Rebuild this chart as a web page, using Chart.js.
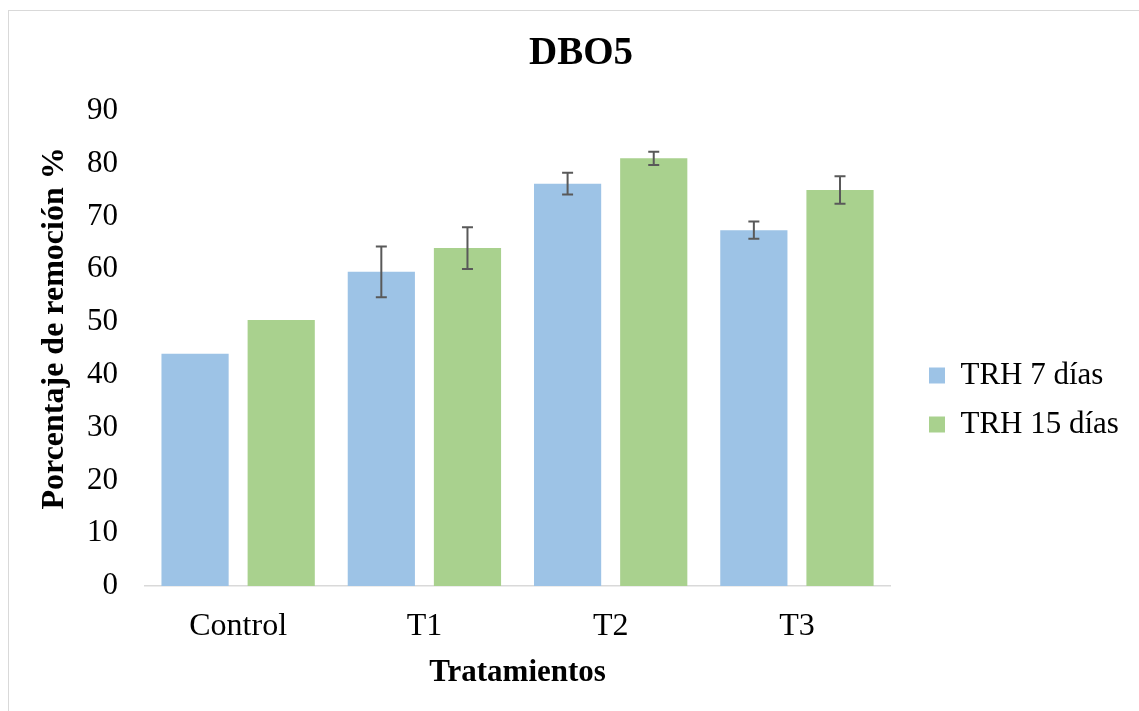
<!DOCTYPE html>
<html>
<head>
<meta charset="utf-8">
<script src="https://cdn.jsdelivr.net/npm/chart.js@4.4.0/dist/chart.umd.min.js"></script>
<style>
  html, body { margin: 0; padding: 0; background: #fff; }
  #wrap { position: absolute; left: 0; top: 0; width: 1139px; height: 711px; }
  #frame { position: absolute; left: 8px; top: 10px; width: 1140px; height: 710px; border: 1px solid #d9d9d9; box-sizing: border-box; }
  canvas { position: absolute; left: 0; top: 0; }
</style>
</head>
<body>
<div id="wrap">
  <div id="frame"></div>
  <canvas id="c" width="1139" height="711"></canvas>
</div>
<script>
const categories = ["Control", "T1", "T2", "T3"];
const seriesNames = ["TRH 7 días", "TRH 15 días"];
const trh7 = [44.0, 59.5, 76.2, 67.4];
const trh15 = [50.4, 64.0, 81.0, 75.0];
const err7 = [0, 4.8, 2.05, 1.65];
const err15 = [0, 3.95, 1.25, 2.6];
const yTicks = [0, 10, 20, 30, 40, 50, 60, 70, 80, 90];

const FONT = "'Liberation Serif', 'Times New Roman', serif";

const errorBars = {
  id: 'errorBars',
  afterDatasetsDraw(chart) {
    const ctx = chart.ctx;
    const y = chart.scales.y;
    const errs = [err7, err15];
    ctx.save();
    ctx.strokeStyle = '#595959';
    ctx.lineWidth = 2;
    chart.data.datasets.forEach((ds, di) => {
      const meta = chart.getDatasetMeta(di);
      meta.data.forEach((bar, i) => {
        const e = errs[di][i];
        if (!e) return;
        const v = ds.data[i];
        const x = bar.x;
        const yt = y.getPixelForValue(v + e);
        const yb = y.getPixelForValue(v - e);
        ctx.beginPath();
        ctx.moveTo(x, yt); ctx.lineTo(x, yb);
        ctx.moveTo(x - 5.5, yt); ctx.lineTo(x + 5.5, yt);
        ctx.moveTo(x - 5.5, yb); ctx.lineTo(x + 5.5, yb);
        ctx.stroke();
      });
    });
    ctx.restore();
  }
};

const placeBoxes = {
  id: 'placeBoxes',
  afterLayout(chart) {
    const L = chart.legend;
    if (L) {
      const dx = 929 - 18 - L.left;
      L.left += dx; L.right += dx;
      const dy = 410 - ((L.top + L.bottom) / 2 + 10);
      L.top += dy; L.bottom += dy;
    }
    const T = chart.titleBlock;
    if (T) { T.left += 12; T.right += 12; }
  }
};

new Chart(document.getElementById('c'), {
  type: 'bar',
  data: {
    labels: categories,
    datasets: [
      { label: seriesNames[0], data: trh7, backgroundColor: '#9DC3E6' },
      { label: seriesNames[1], data: trh15, backgroundColor: '#A9D18E' }
    ]
  },
  options: {
    responsive: false,
    animation: false,
    devicePixelRatio: 1,
    categoryPercentage: 0.925,
    barPercentage: 0.78,
    layout: { padding: { left: 30, right: 31, top: 0, bottom: 19 } },
    plugins: {
      title: {
        display: true,
        text: 'DBO5',
        color: '#000',
        font: { family: FONT, size: 39, weight: 'bold' },
        padding: { top: 31, bottom: 33 }
      },
      legend: {
        position: 'right',
        labels: {
          color: '#000',
          font: { family: FONT, size: 31 },
          boxWidth: 16,
          boxHeight: 16,
          padding: 18
        }
      },
      tooltip: { enabled: false }
    },
    scales: {
      x: {
        afterFit(scale) { scale.height = 106; },
        grid: { display: false },
        border: { display: true, color: '#d9d9d9', width: 1.5 },
        ticks: { color: '#000', font: { family: FONT, size: 32 }, padding: 13 },
        title: {
          display: true,
          text: 'Tratamientos',
          color: '#000',
          font: { family: FONT, size: 31, weight: 'bold' },
          padding: { top: 0, bottom: 0 }
        }
      },
      y: {
        min: 0, max: 90,
        afterBuildTicks(scale) { scale.ticks = yTicks.map(v => ({ value: v })); },
        afterFit(scale) { scale.width = 115; },
        grid: { display: false },
        border: { display: false },
        ticks: { color: '#000', font: { family: FONT, size: 31 }, padding: 19 },
        title: {
          display: true,
          text: '     Porcentaje de remoción %',
          color: '#000',
          font: { family: FONT, size: 32, weight: 'bold' },
          padding: { top: 6, bottom: 0 }
        }
      }
    }
  },
  plugins: [errorBars, placeBoxes]
});
</script>
</body>
</html>
